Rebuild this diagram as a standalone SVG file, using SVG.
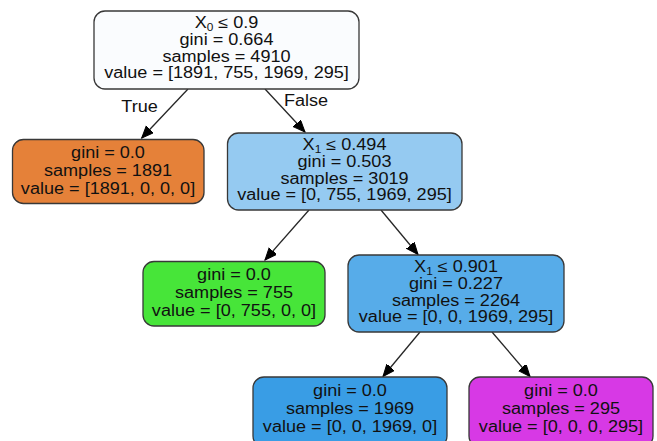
<svg xmlns="http://www.w3.org/2000/svg" width="657" height="441" viewBox="0 0 657 441">
<style>
.box{stroke:#383838;stroke-width:1.3}
.t{font-family:"Liberation Sans",Arial,sans-serif;font-size:16px;fill:#111;text-anchor:middle}
.sub{font-size:10.5px}
.edge{stroke:#262626;stroke-width:1.3;fill:none;marker-end:url(#ah)}
</style>
<defs>
<marker id="ah" markerUnits="userSpaceOnUse" markerWidth="14" markerHeight="12" refX="12" refY="5" orient="auto" viewBox="0 0 14 12">
<path d="M0,0 L12,5 L0,10 Z" fill="#000" stroke="#000" stroke-width="1"/>
</marker>
</defs>
<rect width="657" height="441" fill="#fff"/>
<g id="connectors">
<line class="edge" x1="188" y1="89" x2="141.7" y2="138"/>
<line class="edge" x1="265" y1="89" x2="305" y2="132"/>
<line class="edge" x1="309" y1="210" x2="265" y2="260"/>
<line class="edge" x1="381" y1="210" x2="418" y2="254.5"/>
<line class="edge" x1="420" y1="332" x2="383" y2="376.5"/>
<line class="edge" x1="492" y1="332" x2="530" y2="376.5"/>
<g transform="translate(139.5,0) scale(1.13,1)"><text class="t" x="0" y="112">True</text></g>
<g transform="translate(306,0) scale(1.13,1)"><text class="t" x="0" y="106">False</text></g>
</g>
<g id="node0">
<rect class="box" x="94" y="11" width="265" height="78" rx="11" fill="#fafcfe"/>
<g transform="translate(226.5,0) scale(1.13,1)">
<text class="t" x="0" y="28">X<tspan class="sub" dy="3">0</tspan><tspan dy="-3"> ≤ 0.9</tspan></text>
<text class="t" x="0" y="45">gini = 0.664</text>
<text class="t" x="0" y="62">samples = 4910</text>
<text class="t" x="0" y="78.5">value = [1891, 755, 1969, 295]</text>
</g>
</g>
<g id="node1">
<rect class="box" x="12.5" y="139.5" width="191.5" height="64" rx="11" fill="#e58139"/>
<g transform="translate(108,0) scale(1.13,1)">
<text class="t" x="0" y="158">gini = 0.0</text>
<text class="t" x="0" y="176">samples = 1891</text>
<text class="t" x="0" y="194">value = [1891, 0, 0, 0]</text>
</g>
</g>
<g id="node2">
<rect class="box" x="227.5" y="133" width="234.5" height="77" rx="11" fill="#95caf1"/>
<g transform="translate(344.5,0) scale(1.13,1)">
<text class="t" x="0" y="150">X<tspan class="sub" dy="3">1</tspan><tspan dy="-3"> ≤ 0.494</tspan></text>
<text class="t" x="0" y="167">gini = 0.503</text>
<text class="t" x="0" y="184">samples = 3019</text>
<text class="t" x="0" y="200.5">value = [0, 755, 1969, 295]</text>
</g>
</g>
<g id="node3">
<rect class="box" x="143" y="261.5" width="182" height="64.5" rx="11" fill="#47e539"/>
<g transform="translate(234,0) scale(1.13,1)">
<text class="t" x="0" y="280">gini = 0.0</text>
<text class="t" x="0" y="298">samples = 755</text>
<text class="t" x="0" y="316">value = [0, 755, 0, 0]</text>
</g>
</g>
<g id="node4">
<rect class="box" x="348" y="255" width="216" height="77" rx="11" fill="#57ace9"/>
<g transform="translate(456,0) scale(1.13,1)">
<text class="t" x="0" y="272">X<tspan class="sub" dy="3">1</tspan><tspan dy="-3"> ≤ 0.901</tspan></text>
<text class="t" x="0" y="289">gini = 0.227</text>
<text class="t" x="0" y="306">samples = 2264</text>
<text class="t" x="0" y="322.5">value = [0, 0, 1969, 295]</text>
</g>
</g>
<g id="node5">
<rect class="box" x="253" y="377" width="194" height="70" rx="11" fill="#399de5"/>
<g transform="translate(350,0) scale(1.13,1)">
<text class="t" x="0" y="396">gini = 0.0</text>
<text class="t" x="0" y="414">samples = 1969</text>
<text class="t" x="0" y="432">value = [0, 0, 1969, 0]</text>
</g>
</g>
<g id="node6">
<rect class="box" x="469" y="377" width="184" height="70" rx="11" fill="#d739e5"/>
<g transform="translate(561,0) scale(1.13,1)">
<text class="t" x="0" y="396">gini = 0.0</text>
<text class="t" x="0" y="414">samples = 295</text>
<text class="t" x="0" y="432">value = [0, 0, 0, 295]</text>
</g>
</g>
</svg>
